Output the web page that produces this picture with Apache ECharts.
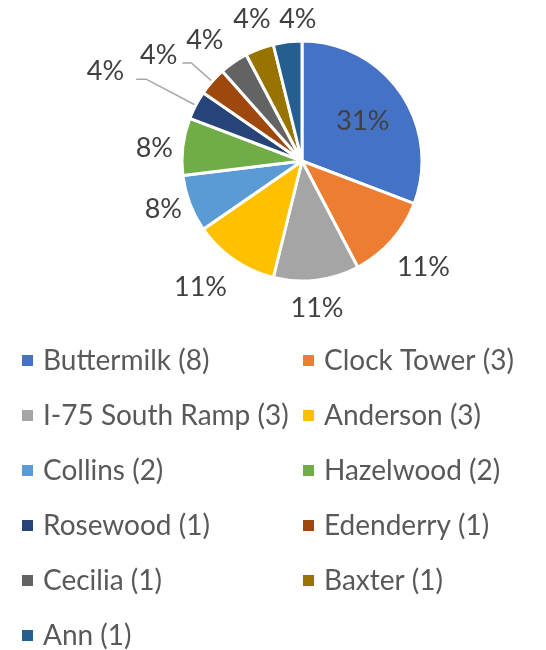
<!DOCTYPE html>
<html>
<head>
<meta charset="utf-8">
<script src="https://cdn.jsdelivr.net/npm/echarts@6/dist/echarts.min.js"></script>
<style>
html,body{margin:0;padding:0;background:#fff;}
#chart{width:546px;height:650px;}
</style>
</head>
<body>
<div id="chart"></div>
<script>
// ---- data ----
var categories = ['Buttermilk', 'Clock Tower', 'I-75 South Ramp', 'Anderson', 'Collins', 'Hazelwood', 'Rosewood', 'Edenderry', 'Cecilia', 'Baxter', 'Ann'];
var values = [8, 3, 3, 3, 2, 2, 1, 1, 1, 1, 1];
var percentLabels = ['31%', '11%', '11%', '11%', '8%', '8%', '4%', '4%', '4%', '4%', '4%'];

// ---- styles ----
var colors = ['#4472C4', '#ED7D31', '#A5A5A5', '#FFC000', '#5B9BD5', '#70AD47', '#264478', '#9E480E', '#636363', '#997300', '#255E91'];
// per-label placement tuning: radial line length, horizontal length, distance, show line, lift (px up), left padding
var labelTune = [
  {pos: 'inside', padLeft: 18, up: 4},
  {len: 40.6, len2: 0, dist: -25.3},
  {len: 28, len2: 0, dist: -29.3},
  {len: 33, len2: 0, dist: -11.9},
  {len: 15.2, len2: 0, dist: -6.4},
  {len: 0, len2: 0, dist: 9.9, up: -2},
  {len: 56, len2: 10, dist: 12, line: true, up: 8},
  {len: 27.8, len2: 9, dist: 5, line: true, up: 8},
  {len: 27, len2: 0, dist: -5},
  {len: 31.9, len2: 0, dist: -22.5},
  {len: 23, len2: 0, dist: -31.7}
];

var FONT = 'Lato';
var LABEL_SIZE = 27;

var pieData = categories.map(function (name, i) {
  var t = labelTune[i];
  return {
    name: name,
    value: values[i],
    itemStyle: {color: colors[i]},
    label: {
      position: t.pos || 'outside',
      distanceToLabelLine: t.dist || 0,
      padding: [0, 0, 0, t.padLeft || 0]
    },
    labelLine: {
      show: !!t.line,
      length: t.len || 0,
      length2: t.len2 || 0
    }
  };
});

function pieLabelFormatter(p) {
  var t = labelTune[p.dataIndex];
  var up = t.up || 0;
  var txt = '{a|' + percentLabels[p.dataIndex] + '}';
  if (up > 0) return txt + '\n{s' + up + '|}';
  if (up < 0) return '{s' + (-up) + '|}\n' + txt;
  return txt;
}

var rich = {
  a: {fontFamily: FONT, fontSize: LABEL_SIZE, color: '#404040', lineHeight: 30}
};
[2, 4, 8].forEach(function (u) { rich['s' + u] = {lineHeight: 2 * u, fontSize: 1}; });

function legendFormatter(name) {
  var idx = categories.indexOf(name);
  return name + ' (' + values[idx] + ')';
}

var leftNames = categories.filter(function (c, i) { return i % 2 === 0; });
var rightNames = categories.filter(function (c, i) { return i % 2 === 1; });

var legendBase = {
  orient: 'vertical',
  top: 346.5,
  height: 420,
  padding: 0,
  itemWidth: 13,
  itemHeight: 13,
  itemGap: 27,
  icon: 'rect',
  selectedMode: false,
  formatter: legendFormatter,
  textStyle: {
    fontFamily: FONT,
    fontSize: 28,
    lineHeight: 28,
    color: '#595959',
    padding: [0, 0, 0, 4]
  }
};

var option = {
  animation: false,
  backgroundColor: '#ffffff',
  legend: [
    Object.assign({}, legendBase, {left: 20, data: leftNames}),
    Object.assign({}, legendBase, {left: 301, data: rightNames})
  ],
  series: [{
    type: 'pie',
    center: [302, 161],
    radius: 120,
    startAngle: 90,
    clockwise: true,
    avoidLabelOverlap: false,
    itemStyle: {borderColor: '#ffffff', borderWidth: 3},
    label: {
      show: true,
      fontFamily: FONT,
      fontSize: LABEL_SIZE,
      color: '#404040',
      formatter: pieLabelFormatter,
      rich: rich
    },
    labelLine: {
      lineStyle: {color: '#A6A6A6', width: 1.5}
    },
    emphasis: {disabled: true},
    data: pieData
  }]
};

var chart = echarts.init(document.getElementById('chart'), null, {renderer: 'canvas'});
chart.setOption(option);
</script>
</body>
</html>
